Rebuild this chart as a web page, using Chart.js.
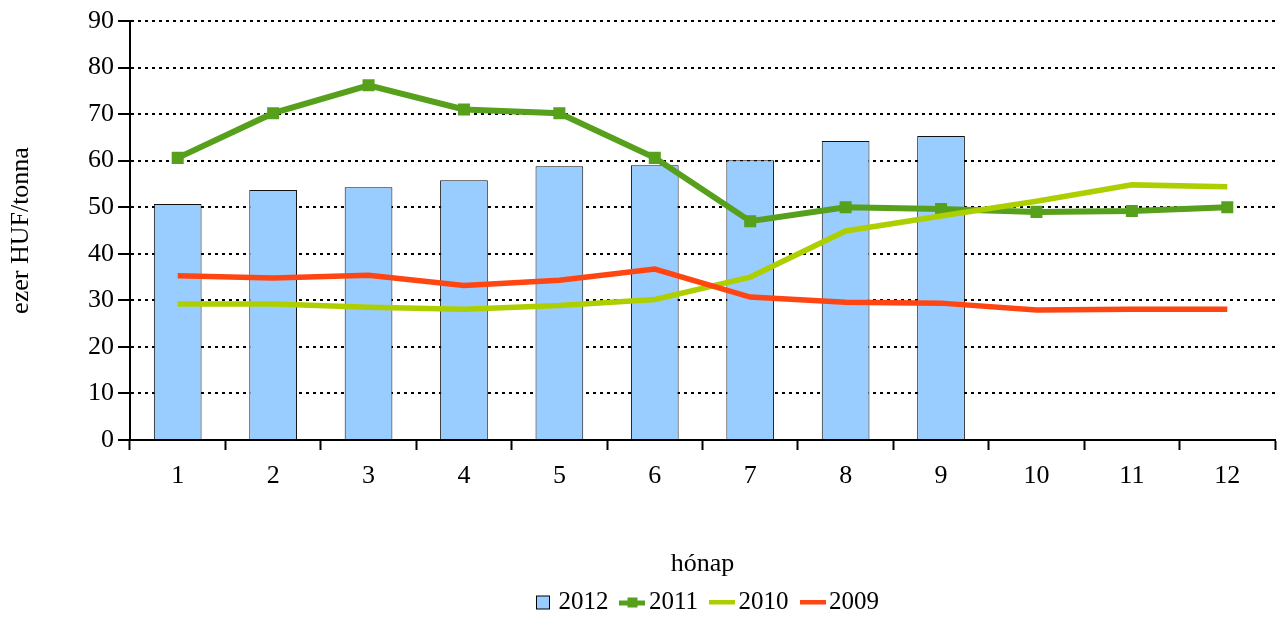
<!DOCTYPE html>
<html>
<head>
<meta charset="utf-8">
<script src="https://cdn.jsdelivr.net/npm/chart.js@4"></script>
<style>
html,body{margin:0;padding:0;background:#fff;}
#wrap{width:1278px;height:617px;position:relative;}
</style>
</head>
<body>
<div id="wrap"><canvas id="c" width="1278" height="617"></canvas></div>
<script>
const months = ['1','2','3','4','5','6','7','8','9','10','11','12'];
const s2012 = [50.7, 53.7, 54.3, 55.8, 58.8, 59.0, 60.1, 64.2, 65.3, null, null, null];
const s2011 = [60.6, 70.2, 76.2, 71.0, 70.2, 60.6, 47.0, 50.0, 49.6, 49.0, 49.2, 50.0];
const s2010 = [29.2, 29.2, 28.5, 28.1, 28.9, 30.2, 35.0, 44.9, 48.1, 51.3, 54.8, 54.4];
const s2009 = [35.3, 34.8, 35.4, 33.2, 34.3, 36.7, 30.7, 29.6, 29.4, 27.9, 28.1, 28.1];
const yTitle = 'ezer HUF/tonna';
const xTitle = 'hónap';

const FONT = '"Liberation Serif", "Times New Roman", serif';
const FS = 26;
const C2012 = '#99ccff', C2011 = '#56a01c', C2010 = '#adcf00', C2009 = '#ff4512';

function mk(w, h, draw) {
  const c = document.createElement('canvas');
  c.width = w; c.height = h;
  draw(c.getContext('2d'));
  return c;
}
const legendIcons = [
  mk(26, 16, g => { g.fillStyle = C2012; g.fillRect(7.5, 1.5, 13, 13); g.strokeStyle = '#000'; g.lineWidth = 1; g.strokeRect(7.5, 1.5, 13, 13); }),
  mk(26, 12, g => { g.fillStyle = C2011; g.fillRect(0, 4, 26, 5); g.fillRect(8, 1, 10, 10); }),
  mk(26, 6, g => { g.fillStyle = C2010; g.fillRect(0, 0, 26, 5); }),
  mk(26, 6, g => { g.fillStyle = C2009; g.fillRect(0, 0, 26, 5); })
];

const legendShift = {
  id: 'legendShift',
  afterLayout(chart) {
    const L = chart.legend, ca = chart.chartArea;
    if (!L) return;
    const d = (ca.left + ca.right) / 2 + 6 - (L.left + L.right) / 2;
    L.left += d; L.right += d;
  }
};

const ctx = document.getElementById('c').getContext('2d');
new Chart(ctx, {
  data: {
    labels: months,
    datasets: [
      { type: 'bar', label: '2012', data: s2012, backgroundColor: C2012, borderColor: '#111', borderWidth: 1,
        barPercentage: 0.5, categoryPercentage: 1.0, order: 3 },
      { type: 'line', label: '2011', data: s2011, borderColor: C2011, backgroundColor: C2011, borderWidth: 6,
        pointStyle: 'rect', pointRadius: 8.5, pointHoverRadius: 8.5, pointBorderWidth: 0, tension: 0, order: 2 },
      { type: 'line', label: '2010', data: s2010, borderColor: C2010, backgroundColor: C2010, borderWidth: 5.5,
        pointRadius: 0, tension: 0, order: 1 },
      { type: 'line', label: '2009', data: s2009, borderColor: C2009, backgroundColor: C2009, borderWidth: 5.5,
        pointRadius: 0, tension: 0, order: 0 }
    ]
  },
  plugins: [legendShift],
  options: {
    responsive: false,
    animation: false,
    events: [],
    layout: { autoPadding: false, padding: { top: 21, right: 3, left: 0, bottom: 0 } },
    plugins: {
      tooltip: { enabled: false },
      legend: {
        position: 'bottom',
        maxHeight: 47,
        labels: {
          font: { family: FONT, size: 25 },
          color: '#000',
          usePointStyle: true,
          pointStyleWidth: 8,
          padding: 20,
          sort: (a, b) => a.datasetIndex - b.datasetIndex,
          generateLabels: (chart) => chart.data.datasets.map((ds, i) => ({
            text: ds.label, datasetIndex: i, pointStyle: legendIcons[i],
            fillStyle: ds.backgroundColor, strokeStyle: ds.borderColor, lineWidth: 0, hidden: false, fontColor: '#000'
          }))
        }
      }
    },
    scales: {
      x: {
        offset: true,
        grid: { offset: true, drawOnChartArea: false, drawTicks: true, tickLength: 10, tickColor: '#000', tickWidth: 2 },
        border: { display: true, color: '#000', width: 2 },
        ticks: { font: { family: FONT, size: FS }, color: '#000', padding: 11, maxRotation: 0 },
        title: { display: true, text: xTitle, font: { family: FONT, size: FS }, color: '#000', padding: { top: 0, bottom: -10 } },
        afterFit: (s) => { s.height = 130; s.paddingLeft = 0; s.paddingRight = 0; }
      },
      y: {
        min: 0, max: 90,
        ticks: { stepSize: 10, font: { family: FONT, size: FS }, color: '#000', padding: 4 },
        grid: { color: '#000', lineWidth: 2, drawTicks: true, tickLength: 12, tickColor: '#000', tickWidth: 2, tickBorderDash: [] },
        border: { display: true, color: '#000', width: 2, dash: [3, 4] },
        title: { display: true, text: yTitle, font: { family: FONT, size: FS }, color: '#000', padding: { top: 6, bottom: 0 } },
        afterFit: (s) => { s.width = 130; }
      }
    }
  }
});
</script>
</body>
</html>
